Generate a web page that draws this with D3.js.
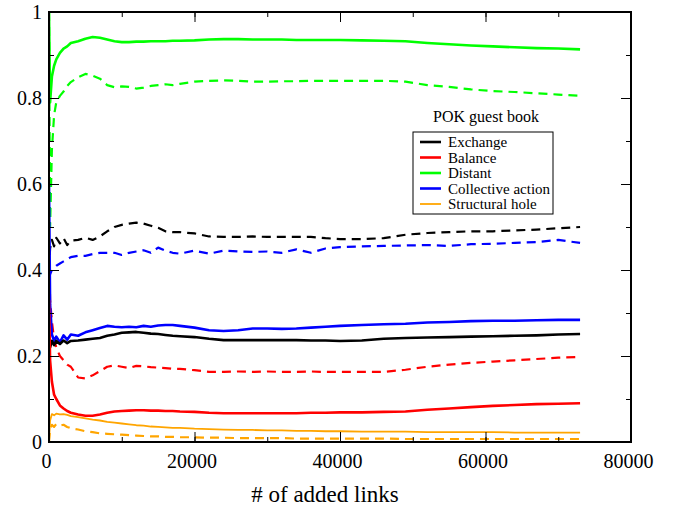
<!DOCTYPE html>
<html>
<head>
  <script src="https://cdn.jsdelivr.net/npm/d3@7"></script>
  <style>
    * { margin: 0; padding: 0; }
    body { background: white; }
    text { font-family: "Liberation Serif", "Times New Roman", serif; }
  </style>
</head>
<body>
  <script>
    // data
    var links = [0, 150, 400, 700, 1000, 1500, 2000, 2500, 3000, 4000, 5000, 6000, 7000, 8000, 9000,
      10000, 11000, 12000, 13000, 14000, 15000, 16000, 17000, 18000, 20000, 22000, 24000, 26000, 28000,
      30000, 32000, 34000, 36000, 38000, 40000, 43000, 46000, 49000, 52000, 55000, 58000, 61000, 64000,
      67000, 70000, 73000];

    var exchSolid = [0.25, 0.22, 0.235, 0.225, 0.235, 0.228, 0.236, 0.23, 0.235, 0.236, 0.238, 0.24, 0.242, 0.247, 0.25,
      0.254, 0.255, 0.256, 0.254, 0.252, 0.251, 0.249, 0.247, 0.246, 0.244, 0.24, 0.237, 0.237, 0.237,
      0.237, 0.237, 0.237, 0.236, 0.236, 0.235, 0.236, 0.24, 0.242, 0.243, 0.244, 0.245, 0.246, 0.247,
      0.248, 0.25, 0.251];
    var exchDash = [0.40, 0.45, 0.47, 0.455, 0.475, 0.462, 0.474, 0.458, 0.468, 0.47, 0.475, 0.47, 0.478, 0.49, 0.5,
      0.505, 0.508, 0.51, 0.508, 0.503, 0.498, 0.49, 0.488, 0.488, 0.485, 0.478, 0.477, 0.477, 0.478,
      0.477, 0.477, 0.477, 0.477, 0.474, 0.472, 0.472, 0.474, 0.482, 0.486, 0.488, 0.49, 0.49, 0.492,
      0.494, 0.497, 0.5];
    var balSolid = [0.33, 0.19, 0.14, 0.11, 0.1, 0.085, 0.078, 0.072, 0.068, 0.064, 0.061, 0.061, 0.064, 0.068, 0.071,
      0.072, 0.073, 0.074, 0.074, 0.073, 0.073, 0.072, 0.072, 0.071, 0.07, 0.068, 0.067, 0.067, 0.067,
      0.067, 0.067, 0.067, 0.068, 0.068, 0.069, 0.069, 0.07, 0.071, 0.075, 0.078, 0.081, 0.084, 0.086,
      0.088, 0.089, 0.09];
    var balDash = [0.45, 0.33, 0.28, 0.24, 0.22, 0.2, 0.19, 0.18, 0.175, 0.15, 0.148, 0.155, 0.165, 0.175, 0.178,
      0.175, 0.172, 0.177, 0.176, 0.174, 0.173, 0.172, 0.17, 0.17, 0.167, 0.163, 0.163, 0.164, 0.163,
      0.164, 0.163, 0.163, 0.164, 0.163, 0.163, 0.163, 0.163, 0.168, 0.175, 0.18, 0.184, 0.187, 0.19,
      0.193, 0.196, 0.198];
    var distSolid = [1.0, 0.79, 0.85, 0.875, 0.89, 0.905, 0.915, 0.92, 0.928, 0.932, 0.938, 0.942, 0.94, 0.936, 0.932,
      0.93, 0.93, 0.931, 0.931, 0.932, 0.932, 0.932, 0.933, 0.933, 0.934, 0.936, 0.937, 0.937, 0.936,
      0.936, 0.936, 0.935, 0.935, 0.935, 0.935, 0.934, 0.933, 0.932, 0.928, 0.925, 0.922, 0.92, 0.918,
      0.916, 0.915, 0.913];
    var distDash = [1.0, 0.5, 0.68, 0.76, 0.79, 0.805, 0.815, 0.828, 0.837, 0.848, 0.856, 0.852, 0.845, 0.83, 0.825,
      0.827, 0.826, 0.822, 0.824, 0.828, 0.83, 0.832, 0.83, 0.833, 0.838, 0.84, 0.841, 0.84, 0.838,
      0.838, 0.839, 0.839, 0.84, 0.84, 0.84, 0.84, 0.84, 0.838, 0.83, 0.826, 0.82, 0.816, 0.814,
      0.811, 0.808, 0.805];
    var collSolid = [0.6, 0.32, 0.25, 0.235, 0.245, 0.232, 0.248, 0.238, 0.25, 0.247, 0.255, 0.26, 0.265, 0.27, 0.268,
      0.267, 0.268, 0.267, 0.27, 0.268, 0.271, 0.272, 0.272, 0.27, 0.266, 0.26, 0.258, 0.26, 0.264,
      0.264, 0.263, 0.264, 0.266, 0.268, 0.27, 0.272, 0.274, 0.275, 0.278, 0.279, 0.281, 0.282, 0.282,
      0.283, 0.284, 0.284];
    var collDash = [0.38, 0.39, 0.4, 0.405, 0.41, 0.415, 0.42, 0.425, 0.43, 0.433, 0.433, 0.437, 0.44, 0.44, 0.44,
      0.435, 0.44, 0.443, 0.446, 0.44, 0.452, 0.445, 0.44, 0.438, 0.445, 0.438, 0.445, 0.443, 0.442,
      0.443, 0.44, 0.448, 0.44, 0.45, 0.453, 0.455, 0.456, 0.457, 0.458, 0.456, 0.46, 0.461, 0.463,
      0.465, 0.47, 0.463];
    var holeSolid = [0.0, 0.05, 0.065, 0.062, 0.066, 0.064, 0.065, 0.063, 0.06, 0.058, 0.055, 0.052, 0.05, 0.047, 0.045,
      0.043, 0.041, 0.039, 0.038, 0.036, 0.035, 0.034, 0.033, 0.033, 0.031, 0.03, 0.029, 0.028, 0.028,
      0.027, 0.027, 0.026, 0.026, 0.025, 0.025, 0.024, 0.024, 0.024, 0.023, 0.023, 0.023, 0.023, 0.022,
      0.022, 0.022, 0.022];
    var holeDash = [0.0, 0.03, 0.04, 0.035, 0.042, 0.038, 0.04, 0.035, 0.032, 0.029, 0.025, 0.023, 0.02, 0.019, 0.018,
      0.017, 0.016, 0.015, 0.014, 0.013, 0.013, 0.012, 0.012, 0.011, 0.011, 0.01, 0.01, 0.009, 0.009,
      0.009, 0.009, 0.008, 0.008, 0.008, 0.008, 0.008, 0.008, 0.007, 0.007, 0.007, 0.007, 0.007, 0.007,
      0.007, 0.007, 0.007];

    var legendNames = ["Exchange", "Balance", "Distant", "Collective action", "Structural hole"];
    var legendColors = ["#000000", "#ff0000", "#00ff00", "#0000ff", "#ffa500"];

    var xTicks = [0, 20000, 40000, 60000, 80000];
    var yTicks = [0, 0.2, 0.4, 0.6, 0.8, 1];

    // layout (plot frame in pixels)
    var w = 678, h = 508;
    var padLeft = 49, padRight = 631, padTop = 12, padBottom = 442;
    var serif = "Liberation Serif";

    var svg = d3.select("body").append("svg")
      .attr("width", w)
      .attr("height", h);

    var xScale = d3.scaleLinear().domain([0, 80000]).range([padLeft, padRight]);
    var yScale = d3.scaleLinear().domain([0, 1]).range([padBottom, padTop]);

    // clip so the lines stay in the frame
    svg.append("clipPath").attr("id", "frame")
      .append("rect")
      .attr("x", padLeft).attr("y", padTop)
      .attr("width", padRight - padLeft).attr("height", padBottom - padTop);

    var line = d3.line()
      .x(function(d, i) { return xScale(links[i]); })
      .y(function(d) { return yScale(d); });

    // dashed first, solid on top
    var series = [
      { v: distDash, c: "#00ff00", dash: true },
      { v: exchDash, c: "#000000", dash: true },
      { v: collDash, c: "#0000ff", dash: true },
      { v: balDash, c: "#ff0000", dash: true },
      { v: holeDash, c: "#ffa500", dash: true },
      { v: distSolid, c: "#00ff00", dash: false },
      { v: collSolid, c: "#0000ff", dash: false },
      { v: exchSolid, c: "#000000", dash: false },
      { v: balSolid, c: "#ff0000", dash: false },
      { v: holeSolid, c: "#ffa500", dash: false, thin: true }
    ];

    svg.append("g").attr("clip-path", "url(#frame)")
      .selectAll("path")
      .data(series)
      .enter()
      .append("path")
      .attr("d", function(d) { return line(d.v); })
      .attr("fill", "none")
      .attr("stroke", function(d) { return d.c; })
      .attr("stroke-width", function(d) { return d.thin ? 1.8 : (d.dash ? 2.2 : 2.6); })
      .attr("stroke-dasharray", function(d) { return d.dash ? "9,6" : null; })
      .attr("stroke-linejoin", "round");

    // axes, ticks pointing inward on all four sides
    function styleAxis(g) {
      g.attr("font-family", serif).attr("font-size", 20);
      g.select(".domain").remove();
      g.selectAll("line").attr("stroke", "#000").attr("stroke-width", 1);
      g.selectAll("text").attr("fill", "#000");
    }
    var minorX = d3.range(0, 80001, 10000);
    var minorY = d3.range(0, 1.0001, 0.1);

    svg.append("g").attr("transform", "translate(0," + padBottom + ")")
      .call(d3.axisBottom(xScale).tickValues(minorX).tickSize(-5).tickFormat(""))
      .call(styleAxis);
    svg.append("g").attr("transform", "translate(0," + padBottom + ")")
      .call(d3.axisBottom(xScale).tickValues(xTicks).tickSize(-10).tickPadding(12).tickFormat(d3.format("d")))
      .call(styleAxis)
      .selectAll("text").attr("dx", -3);
    svg.append("g").attr("transform", "translate(0," + padTop + ")")
      .call(d3.axisTop(xScale).tickValues(minorX).tickSize(-5).tickFormat(""))
      .call(styleAxis);
    svg.append("g").attr("transform", "translate(0," + padTop + ")")
      .call(d3.axisTop(xScale).tickValues(xTicks).tickSize(-10).tickFormat(""))
      .call(styleAxis);

    svg.append("g").attr("transform", "translate(" + padLeft + ",0)")
      .call(d3.axisLeft(yScale).tickValues(minorY).tickSize(-5).tickFormat(""))
      .call(styleAxis);
    svg.append("g").attr("transform", "translate(" + padLeft + ",0)")
      .call(d3.axisLeft(yScale).tickValues(yTicks).tickSize(-10).tickPadding(7).tickFormat(d3.format("")))
      .call(styleAxis);
    svg.append("g").attr("transform", "translate(" + padRight + ",0)")
      .call(d3.axisRight(yScale).tickValues(minorY).tickSize(-5).tickFormat(""))
      .call(styleAxis);
    svg.append("g").attr("transform", "translate(" + padRight + ",0)")
      .call(d3.axisRight(yScale).tickValues(yTicks).tickSize(-10).tickFormat(""))
      .call(styleAxis);

    // frame
    svg.append("rect")
      .attr("x", padLeft).attr("y", padTop)
      .attr("width", padRight - padLeft).attr("height", padBottom - padTop)
      .attr("fill", "none")
      .attr("stroke", "#000")
      .attr("stroke-width", 2);

    // x title
    svg.append("text")
      .attr("x", 325).attr("y", 502)
      .attr("text-anchor", "middle")
      .style("font-size", "23px")
      .text("# of added links");

    // legend
    svg.append("text")
      .attr("x", 486).attr("y", 122)
      .attr("text-anchor", "middle")
      .style("font-size", "16px")
      .text("POK guest book");

    svg.append("rect")
      .attr("x", 413).attr("y", 132)
      .attr("width", 140).attr("height", 82)
      .attr("fill", "white")
      .attr("stroke", "#000")
      .attr("stroke-width", 1);

    var legendY = d3.scaleLinear().domain([0, 4]).range([142, 204]);
    var items = svg.selectAll(".legend")
      .data(legendNames)
      .enter()
      .append("g")
      .attr("class", "legend")
      .attr("transform", function(d, i) { return "translate(0," + legendY(i) + ")"; });
    items.append("line")
      .attr("x1", 420).attr("x2", 441)
      .attr("stroke", function(d, i) { return legendColors[i]; })
      .attr("stroke-width", function(d, i) { return i == 4 ? 1.8 : 2.6; });
    items.append("text")
      .attr("x", 448).attr("y", 5)
      .style("font-size", "15px")
      .text(function(d) { return d; });
  </script>
</body>
</html>
